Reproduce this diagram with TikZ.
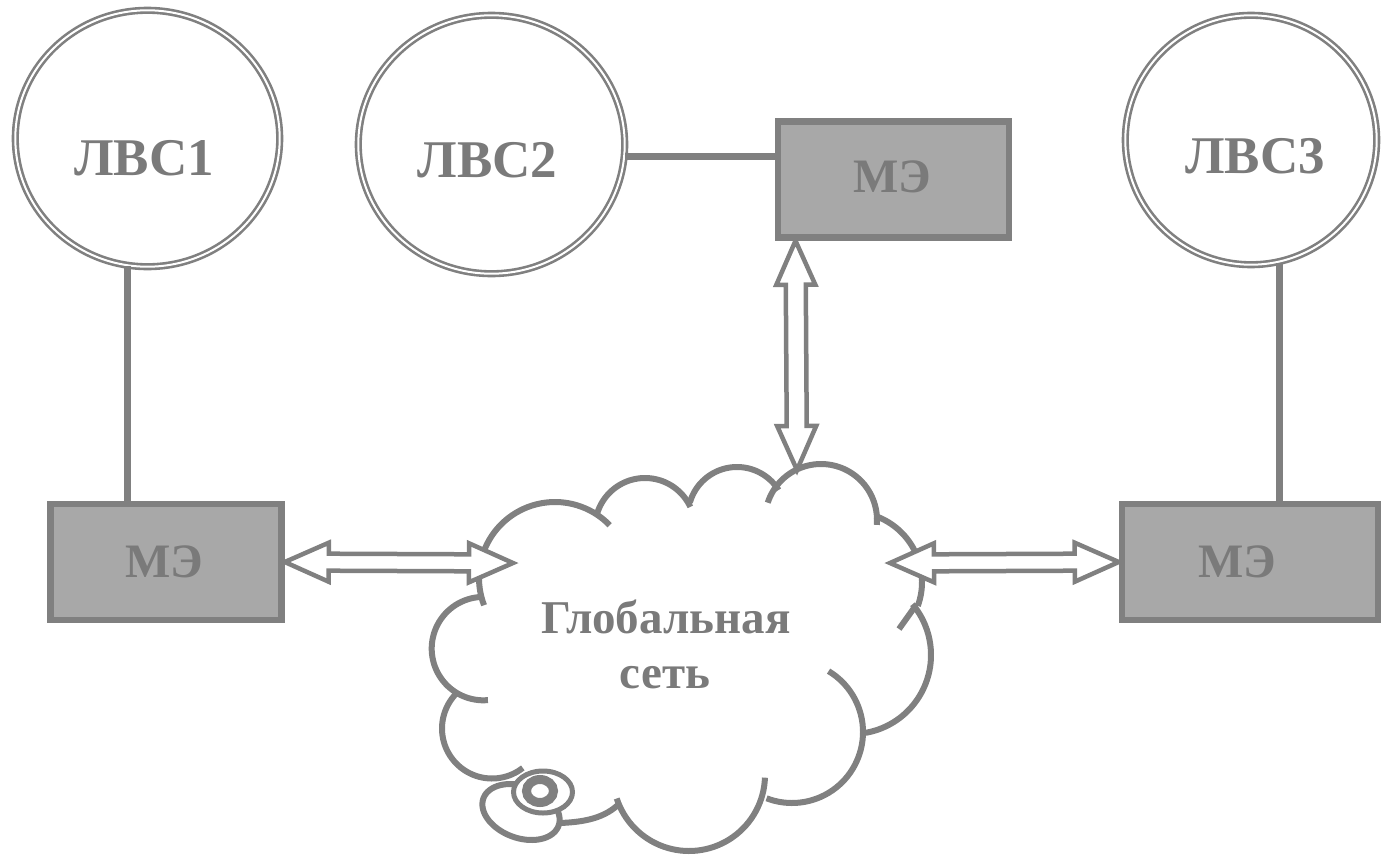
\documentclass[tikz,border=0pt]{standalone}
\usepackage{fontspec}
\setmainfont{Liberation Serif}
\usetikzlibrary{calc,shapes.geometric}

\definecolor{lineg}{RGB}{128,128,128}
\definecolor{textg}{RGB}{122,122,122}
\definecolor{boxfill}{RGB}{168,168,168}

% hollow two-headed arrow between two points: [shaft half width]{start}{end}
\newcommand\arrhead{44pt}
\newcommand\arrwing{19.5pt}
\newcommand\twinarrow[3][8.5pt]{%
  \path (#2) coordinate (ta) (#3) coordinate (tb);
  \path ($(ta)!\arrhead!(tb)$) coordinate (ha)
        ($(tb)!\arrhead!(ta)$) coordinate (hb);
  \draw[twin] (ta) -- ($(ha)!\arrwing!90:(tb)$) -- ($(ha)!#1!90:(tb)$)
    -- ($(hb)!#1!-90:(ta)$) -- ($(hb)!\arrwing!-90:(ta)$) -- (tb)
    -- ($(hb)!\arrwing!90:(ta)$) -- ($(hb)!#1!90:(ta)$)
    -- ($(ha)!#1!-90:(tb)$) -- ($(ha)!\arrwing!-90:(tb)$) -- cycle;}

% one circular bump of the cloud: {cx}{cy}{r}{from angle}{to angle}
\newcommand\cloudarc[5]{%
  \draw[cloudline] plot[domain=#4:#5,samples=50,variable=\t]
    ({#1+#3*cos(\t)},{#2+#3*sin(\t)});}

\begin{document}
\begin{tikzpicture}[x=1pt,y=-1pt,
  lan/.style={ellipse,draw=lineg,line width=2.6pt,double=white,
    double distance=2pt,inner sep=0pt},
  lantext/.style={text=textg,font=\bfseries\fontsize{53}{60}\selectfont,anchor=base,inner sep=0pt},
  fw/.style={rectangle,draw=lineg,fill=boxfill,line width=6.5pt,
    minimum width=231pt,minimum height=116pt,inner sep=0pt},
  fwtext/.style={text=textg,font=\bfseries\fontsize{48}{55}\selectfont,anchor=base,inner sep=0pt},
  nettext/.style={text=textg,font=\bfseries\fontsize{47}{55}\selectfont,anchor=base,inner sep=0pt},
  link/.style={draw=lineg,line width=7pt},
  twin/.style={draw=lineg,fill=white,line width=4.5pt,line join=miter},
  cloudline/.style={draw=lineg,line width=6pt}]

\useasboundingbox (0,0) rectangle (1384,854);

% ---- global network cloud ----
\cloudarc{555}{578}{76}{159}{316}
\cloudarc{645}{528}{50}{-163}{-25}
\cloudarc{737}{516}{49}{-164}{-32}
\cloudarc{821}{520}{56}{-162}{5}
\cloudarc{852}{582}{70}{-71}{20}
\draw[cloudline] (899,629) -- (914,608);
\cloudarc{852}{655}{79}{-40}{80}
\cloudarc{792}{732}{71}{-59}{111}
\cloudarc{689}{775}{76}{2}{162}
\draw[cloudline] (620,803) .. controls (605,818) and (585,822) .. (560,823);
\cloudarc{492}{728.5}{50}{52}{225}
\cloudarc{483.4}{648.6}{51.7}{85}{267}
% tail bubbles
\draw[cloudline] plot[domain=0:360,samples=80,variable=\t]
  ({521+40*cos(\t)*cos(20)-26*sin(\t)*sin(20)},{812+40*cos(\t)*sin(20)+26*sin(\t)*cos(20)});
\draw[draw=lineg,line width=5pt,fill=white] (543,792) ellipse [x radius=29.5, y radius=21];
\draw[draw=lineg,line width=9pt] (540,791) ellipse [x radius=13.5, y radius=11.5];

\node[nettext] (net1) at (666,633) {Глобальная};
\node[nettext] (net2) at (665,688) {сеть};

% contact points on the cloud
\coordinate (netW) at (513,563);
\coordinate (netN) at (797,470);
\coordinate (netE) at (890,563);

% ---- local networks ----
\node[lan,minimum width=264.4pt,minimum height=256.4pt] (lan1) at (147.5,138.5) {};
\node[lan,minimum width=266.4pt,minimum height=258.4pt] (lan2) at (491.5,144.5) {};
\node[lan,minimum width=251.4pt,minimum height=249.4pt] (lan3) at (1251,140) {};
\node[lantext] (lan1t) at (144,175) {ЛВС1};
\node[lantext] (lan2t) at (487.5,177) {ЛВС2};
\node[lantext] (lan3t) at (1255,173) {ЛВС3};

% ---- firewalls ----
\node[fw] (me1) at (166,562) {};
\node[fw] (me2) at (893.25,179.5) {};
\node[fw,minimum width=256pt] (me3) at (1250,562) {};
\node[fwtext] (me1t) at (164,577) {МЭ};
\node[fwtext] (me2t) at (892,192) {МЭ};
\node[fwtext] (me3t) at (1237,577) {МЭ};

% ---- links ----
\draw[link] (lan1.-99) -- (lan1.-99 |- me1.north);
\draw[link] (lan3.-77) -- (lan3.-77 |- me3.north);
\draw[link] (lan2.-5) -- (lan2.-5 -| me2.west);

% ---- two-way channels ----
\coordinate (me2port) at ($(me2.south west)+(21,0)$);
\twinarrow{me1.east}{netW}
\twinarrow[10pt]{me2port}{netN}
\twinarrow{netE}{me3.west}

\end{tikzpicture}
\end{document}
